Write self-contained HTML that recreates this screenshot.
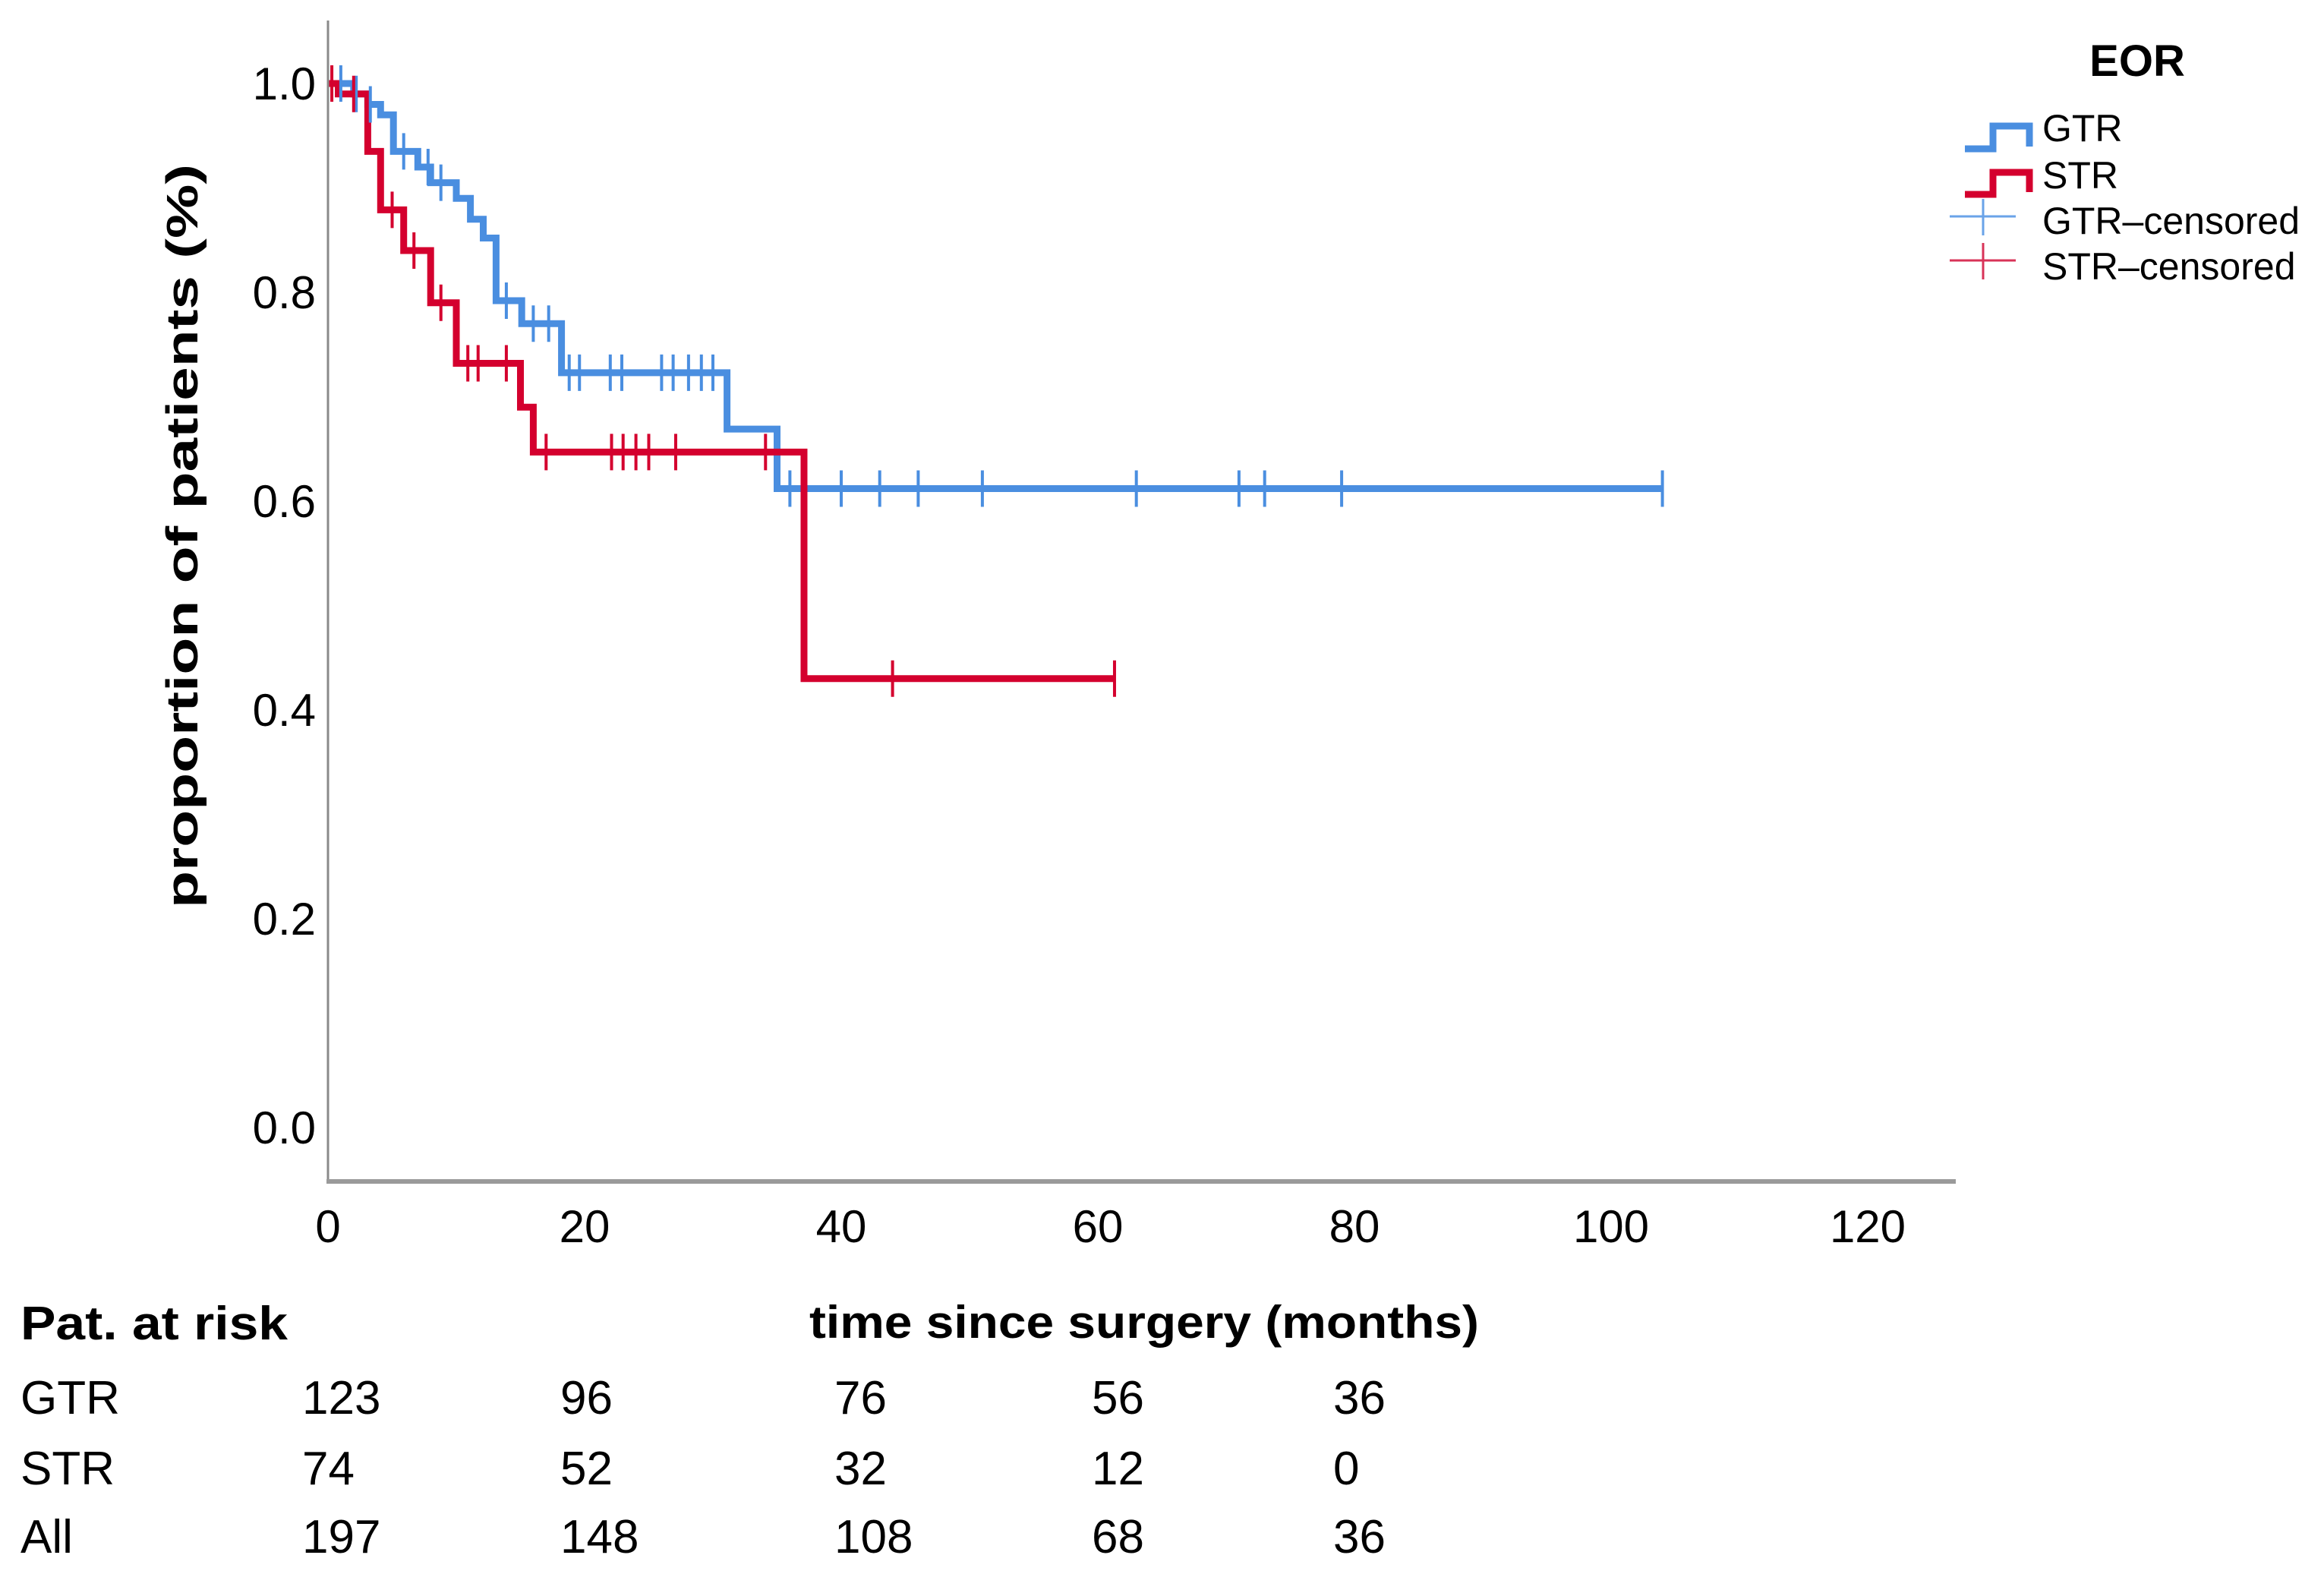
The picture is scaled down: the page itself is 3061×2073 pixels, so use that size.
<!DOCTYPE html>
<html><head><meta charset="utf-8"><style>
html,body{margin:0;padding:0;background:#fff;}
svg{display:block;font-family:"Liberation Sans",sans-serif;}
</style></head><body>
<svg id="chart" width="3061" height="2073" viewBox="0 0 3061 2073" xmlns="http://www.w3.org/2000/svg">
<g id="plot"></g>
<g id="axes"></g>
<text transform="translate(260,706) rotate(-90)" text-anchor="middle" font-size="58" font-weight="bold" textLength="980" lengthAdjust="spacingAndGlyphs">proportion of patients (%)</text>
<text x="1507" y="1762" text-anchor="middle" font-size="60" font-weight="bold" textLength="882" lengthAdjust="spacingAndGlyphs">time since surgery (months)</text>
<text x="27" y="1764" font-size="62" font-weight="bold" textLength="352" lengthAdjust="spacingAndGlyphs">Pat. at risk</text>
<g id="risk"></g>
<g>
<text x="2815" y="100" text-anchor="middle" font-size="58" font-weight="bold">EOR</text>
<g>
<path d="M2588,196 H2625 V166 H2673 V193" fill="none" stroke="#4a8ee0" stroke-width="9"/>
<text x="2690" y="186" font-size="50">GTR</text></g>
<g>
<path d="M2588,256 H2625 V227 H2673 V253" fill="none" stroke="#d4002e" stroke-width="9"/>
<text x="2690" y="248" font-size="50">STR</text></g>
<g>
<path d="M2568,285 H2655 M2612,262 V310" stroke="#6aa3e8" stroke-width="3"/>
<text x="2690" y="308" font-size="50">GTR–censored</text></g>
<g>
<path d="M2568,343 H2655 M2612,320 V368" stroke="#d83358" stroke-width="3"/>
<text x="2690" y="368" font-size="50">STR–censored</text></g>
</g>
</svg>
<script>
const xTicks=[0,20,40,60,80,100,120];
const yTicks=[0,0.2,0.4,0.6,0.8,1.0];
const gtrTimes=[0,2,3.1,4.1,5.1,7,8,10,11.1,12.1,13.1,15.1,18.2,31.1,35];
const gtrSurv=[1,0.99,0.98,0.97,0.935,0.92,0.905,0.89,0.87,0.852,0.792,0.77,0.723,0.669,0.612];
const gtrEnd=104;
const strTimes=[0,0.8,3.1,4.1,5.9,8,10,15,16,37.1];
const strSurv=[1,0.99,0.935,0.879,0.84,0.79,0.732,0.69,0.647,0.43];
const strEnd=61.3;
const gtrCens=[1,2.2,3.3,5.9,7.8,8.8,13.9,16,17.2,18.8,19.6,22,22.9,26,26.9,28.1,29.1,30,36,40,43,46,51,63,71,73,79,104];
const strCens=[0.3,2,5,6.7,8.8,10.9,11.7,13.9,17,22.1,23,24,25,27.1,34.1,44,61.3];
const riskGroups=["GTR","STR","All"];
const riskGTR=[123,96,76,56,36];
const riskSTR=[74,52,32,12,0];
const riskAll=[197,148,108,68,36];
const riskX=[398,738,1099,1438,1756];

const NS="http://www.w3.org/2000/svg";
const X=t=>432+t*16.9;
const Y=v=>1485-v*1375;
function mk(tag,attrs,parent){const e=document.createElementNS(NS,tag);for(const k in attrs)e.setAttribute(k,attrs[k]);parent.appendChild(e);return e;}
const axes=document.getElementById('axes'),plot=document.getElementById('plot'),risk=document.getElementById('risk');
let ya=mk('line',{x1:432,y1:27,x2:432,y2:1556,stroke:'#8a8a8a','stroke-width':3},axes);

let xa=mk('line',{x1:430,y1:1556,x2:2576,y2:1556,stroke:'#9a9a9a','stroke-width':6},axes);

xTicks.forEach(t=>{const e=mk('text',{x:X(t),y:1636,'text-anchor':'middle','font-size':60},axes);e.textContent=t;
});
yTicks.forEach(v=>{const e=mk('text',{x:416,y:Y(v)+21,'text-anchor':'end','font-size':60},axes);e.textContent=v.toFixed(1);
});
function stepAt(times,surv,t){let v=surv[0];for(let i=0;i<times.length;i++)if(times[i]<=t)v=surv[i];return v;}
function curve(times,surv,end,color,name){let d='M'+X(times[0])+','+Y(surv[0]);
for(let i=1;i<times.length;i++){d+=' H'+X(times[i])+' V'+Y(surv[i]);}d+=' H'+X(end);
const p=mk('path',{d:d,fill:'none',stroke:color,'stroke-width':9,'stroke-linejoin':'miter'},plot);
}
function cens(list,times,surv,color,name){list.forEach(t=>{const y=Y(stepAt(times,surv,t)),x=X(t);
const p=mk('path',{d:'M'+x+','+(y-24)+' V'+(y+24),stroke:color,'stroke-width':4},plot);
});}
curve(gtrTimes,gtrSurv,gtrEnd,'#4a8ee0','gtr-curve');
curve(strTimes,strSurv,strEnd,'#d4002e','str-curve');
cens(gtrCens,gtrTimes,gtrSurv,'#4a8ee0','gtr-censor-mark');
cens(strCens,strTimes,strSurv,'#d4002e','str-censor-mark');
const rows=[riskGTR,riskSTR,riskAll],rowY=[1862,1955,2045];
rows.forEach((r,i)=>{const l=mk('text',{x:27,y:rowY[i],'font-size':62},risk);l.textContent=riskGroups[i];

r.forEach((n,j)=>{const e=mk('text',{x:riskX[j],y:rowY[i],'font-size':62},risk);e.textContent=n;
});});
</script>
</body></html>
